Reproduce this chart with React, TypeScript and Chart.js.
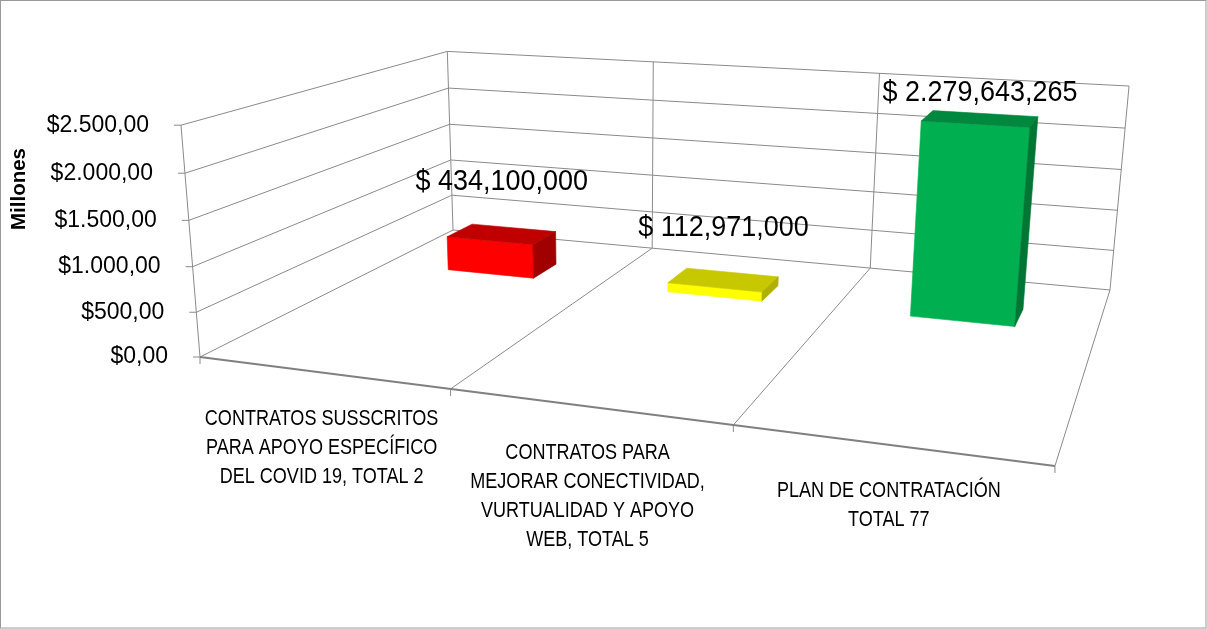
import React, { useEffect, useRef } from 'react';
import { Chart, registerables } from 'chart.js';

Chart.register(...registerables);

// ---------- data ----------
const categories: string[][] = [
  ['CONTRATOS SUSSCRITOS', 'PARA APOYO ESPECÍFICO', 'DEL COVID 19, TOTAL 2'],
  ['CONTRATOS PARA', 'MEJORAR CONECTIVIDAD,', 'VURTUALIDAD Y APOYO', 'WEB, TOTAL 5'],
  ['PLAN DE CONTRATACIÓN', 'TOTAL 77'],
];
const valuesMillones: number[] = [434.1, 112.971, 2279.643265];
const valueLabels: string[] = ['$ 434,100,000', '$ 112,971,000', '$ 2.279,643,265'];
const yTickValues: number[] = [0, 500, 1000, 1500, 2000, 2500];
const yTickLabels: string[] = ['$0,00', '$500,00', '$1.000,00', '$1.500,00', '$2.000,00', '$2.500,00'];
const axisTitle = 'Millones';

// ---------- styles ----------
const frontColors = ['#FF0000', '#FFFF00', '#00B050'];
const topColors = ['#C00000', '#C8C800', '#00883E'];
const sideColors = ['#A00000', '#B0B000', '#007635'];
const gridColor = '#8a8a8a';
const textColor = '#000000';

// perspective camera (vanishing points + scale factors)
const CAM = {
  ox: 200, oy: 357,
  vpX: [-3950, -172], kX: -0.05694,
  vpY: [622, 5506], kY: -0.04308,
  vpZ: [1254.5, -172.3], kZ: 0.3157,
};
const BAR_Z_FRONT = 0.68;
const BAR_Z_BACK = 0.8;

function project(xc: number, vn: number, z: number): [number, number] {
  const w = 1 + CAM.kX * xc + CAM.kY * vn + CAM.kZ * z;
  const xh = CAM.ox + CAM.kX * xc * CAM.vpX[0] + CAM.kY * vn * CAM.vpY[0] + CAM.kZ * z * CAM.vpZ[0];
  const yh = CAM.oy + CAM.kX * xc * CAM.vpX[1] + CAM.kY * vn * CAM.vpY[1] + CAM.kZ * z * CAM.vpZ[1];
  return [xh / w, yh / w];
}

function line(ctx: CanvasRenderingContext2D, a: [number, number], b: [number, number]) {
  ctx.beginPath();
  ctx.moveTo(a[0], a[1]);
  ctx.lineTo(b[0], b[1]);
  ctx.stroke();
}

function poly(ctx: CanvasRenderingContext2D, pts: [number, number][], fill: string) {
  ctx.beginPath();
  pts.forEach((p, i) => (i ? ctx.lineTo(p[0], p[1]) : ctx.moveTo(p[0], p[1])));
  ctx.closePath();
  ctx.fillStyle = fill;
  ctx.strokeStyle = fill;
  ctx.lineWidth = 0.6;
  ctx.fill();
  ctx.stroke();
}

// text drawn with a horizontal condensing factor (narrow, Calibri-like proportions)
function condensedText(ctx: CanvasRenderingContext2D, text: string, x: number, y: number, sx: number) {
  ctx.save();
  ctx.translate(x, y);
  ctx.scale(sx, 1);
  ctx.fillText(text, 0, 0);
  ctx.restore();
}

const threeD = {
  id: 'threeD',
  beforeDatasetsDraw(chart: any) {
    const ctx: CanvasRenderingContext2D = chart.ctx;
    const ys = chart.scales.y;
    const nCat = chart.data.labels.length;
    const toVn = (py: number) => (ys.bottom - py) / (ys.bottom - ys.top);
    ctx.save();
    ctx.strokeStyle = gridColor;
    ctx.lineWidth = 1;
    yTickValues.forEach((t) => {
      const vn = toVn(ys.getPixelForValue(t));
      line(ctx, project(0, vn, 0), project(0, vn, 1));
      line(ctx, project(0, vn, 1), project(nCat, vn, 1));
      const p = project(0, vn, 0);
      line(ctx, [p[0] - 7, p[1]], p);
    });
    for (let k = 0; k <= nCat; k++) {
      line(ctx, project(k, 0, 1), project(k, 1, 1));
      if (k > 0) line(ctx, project(k, 0, 0), project(k, 0, 1));
      const p = project(k, 0, 0);
      line(ctx, p, [p[0], p[1] + 7]);
    }
    line(ctx, project(0, 0, 0), project(0, 1, 0));
    ctx.lineWidth = 2;
    ctx.strokeStyle = '#808080';
    line(ctx, project(0, 0, 0), project(nCat, 0, 0));
    ctx.restore();
    return false;
  },
  afterDraw(chart: any) {
    const ctx: CanvasRenderingContext2D = chart.ctx;
    const xs = chart.scales.x;
    const ys = chart.scales.y;
    const nCat = chart.data.labels.length;
    const toXc = (px: number) => ((px - xs.left) / (xs.right - xs.left)) * nCat;
    const toVn = (py: number) => (ys.bottom - py) / (ys.bottom - ys.top);
    ctx.save();

    const meta = chart.getDatasetMeta(0);
    const tops: [number, number][] = [];
    meta.data.forEach((el: any, i: number) => {
      const { x, y, base, width } = el.getProps(['x', 'y', 'base', 'width'], true);
      const x0 = toXc(x - width / 2);
      const x1 = toXc(x + width / 2);
      const v0 = toVn(base);
      const v1 = toVn(y);
      const zf = BAR_Z_FRONT;
      const zb = BAR_Z_BACK;
      poly(ctx, [project(x0, v0, zf), project(x1, v0, zf), project(x1, v1, zf), project(x0, v1, zf)], frontColors[i]);
      poly(ctx, [project(x0, v1, zf), project(x1, v1, zf), project(x1, v1, zb), project(x0, v1, zb)], topColors[i]);
      poly(ctx, [project(x1, v0, zf), project(x1, v0, zb), project(x1, v1, zb), project(x1, v1, zf)], sideColors[i]);
      tops.push(project((x0 + x1) / 2, v1, (zf + zb) / 2));
    });

    ctx.fillStyle = textColor;
    ctx.textAlign = 'center';
    ctx.textBaseline = 'middle';
    ctx.font = '29px "Liberation Sans", Arial, sans-serif';
    tops.forEach((p, i) => {
      condensedText(ctx, valueLabels[i], p[0], Math.max(p[1] - 52, 93), 0.93);
    });

    ctx.font = '23px "Liberation Sans", Arial, sans-serif';
    ctx.textAlign = 'right';
    yTickValues.forEach((t, i) => {
      const p = project(0, toVn(ys.getPixelForValue(t)), 0);
      ctx.fillText(yTickLabels[i], p[0] - 32, p[1]);
    });

    ctx.save();
    ctx.translate(19, 189);
    ctx.rotate(-Math.PI / 2);
    ctx.font = 'bold 20.5px "Liberation Sans", Arial, sans-serif';
    ctx.textAlign = 'center';
    ctx.fillText(axisTitle, 0, 0);
    ctx.restore();

    ctx.font = '22px "Liberation Sans", Arial, sans-serif';
    ctx.textAlign = 'center';
    chart.data.labels.forEach((lab: string[], i: number) => {
      const p = project(toXc(xs.getPixelForValue(i)), 0, 0);
      lab.forEach((ln, j) => condensedText(ctx, ln, p[0], p[1] + 46.5 + j * 29, 0.82));
    });

    ctx.strokeStyle = '#9a9a9a';
    ctx.lineWidth = 1;
    ctx.strokeRect(0.5, 0.5, chart.width - 1.5, chart.height - 1.5);
    ctx.restore();
  },
};

export default function App() {
  const ref = useRef<HTMLCanvasElement | null>(null);
  useEffect(() => {
    if (!ref.current) return;
    const chart = new Chart(ref.current, {
      type: 'bar',
      data: {
        labels: categories as any,
        datasets: [
          {
            data: valuesMillones,
            backgroundColor: frontColors,
            barPercentage: 0.4,
            categoryPercentage: 1,
          },
        ],
      },
      options: {
        responsive: false,
        animation: false,
        events: [],
        layout: { padding: 0 },
        plugins: { legend: { display: false }, tooltip: { enabled: false } },
        scales: {
          x: { display: false },
          y: { display: false, min: 0, max: 2500, ticks: { stepSize: 500 } },
        },
      },
      plugins: [threeD],
    });
    return () => chart.destroy();
  }, []);
  return (
    <div style={{ position: 'fixed', left: 0, top: 0, width: 1207, height: 629, background: '#fff' }}>
      <canvas ref={ref} width={1207} height={629} style={{ display: 'block' }} />
    </div>
  );
}
